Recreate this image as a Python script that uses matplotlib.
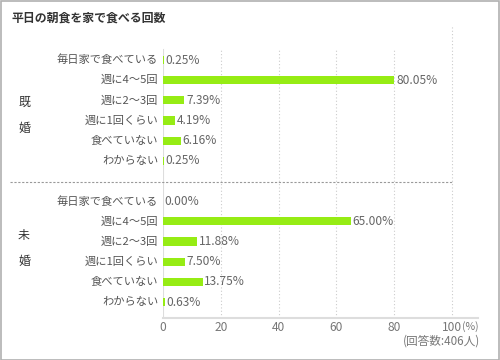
import matplotlib.pyplot as plt
from matplotlib.lines import Line2D

plt.rcParams['font.family'] = ['Noto Sans CJK JP', 'DejaVu Sans']

title = "平日の朝食を家で食べる回数"
categories = ["毎日家で食べている", "週に4～5回", "週に2～3回", "週に1回くらい", "食べていない", "わからない"]
groups = ["既\n\n婚", "未\n\n婚"]
married = [0.25, 80.05, 7.39, 4.19, 6.16, 0.25]
single = [0.00, 65.00, 11.88, 7.50, 13.75, 0.63]
xticks = [0, 20, 40, 60, 80, 100]
xticklabels = ["0", "20", "40", "60", "80", "100"]
unit = "(%)"
note = "(回答数:406人)"

green = "#96EC14"
W, H = 500, 360
fig = plt.figure(figsize=(5, 3.6), dpi=100)

# axes from x=163..478 px, y=25..318 px
px = 2.89  # pixels per percent
x0, x1 = 163, 478
y0, y1 = 25, 318
ax = fig.add_axes([x0 / W, 1 - y1 / H, (x1 - x0) / W, (y1 - y0) / H])
step = 20.17
ax.set_xlim(0, (x1 - x0) / px)
ax.set_ylim((y1 - 60) / step, (y0 - 60) / step)

rows1 = list(range(6))
rows2 = list(range(7, 13))
for rows, vals in [(rows1, married), (rows2, single)]:
    ax.barh(rows, vals, height=0.4, color=green, zorder=3)
    for r, v, c in zip(rows, vals, categories):
        ax.annotate(f"{v:.2f}%", (v, r), xytext=(1.2, 0), textcoords="offset points",
                    va="center", ha="left", fontsize=8.6, color="#666666")
        ax.annotate(c, (0, r), xytext=(-3.5, 0), textcoords="offset points",
                    va="center", ha="right", fontsize=8.1, color="#555555")

# grid lines
top_grid = (y1 - 50) / (y1 - y0)
for t in xticks[1:-1]:
    ax.axvline(t, ymin=0, ymax=top_grid, color="#cccccc", lw=0.8, ls=(0, (1, 2)), zorder=1)
ax.axvline(100, ymin=0, ymax=1, color="#cccccc", lw=0.8, ls=(0, (1, 2)), zorder=1)
ax.axvline(0, ymin=0, ymax=top_grid, color="#dddddd", lw=1.5, zorder=2)

for s in ["top", "right", "left"]:
    ax.spines[s].set_visible(False)
ax.spines["bottom"].set_color("#dddddd")
ax.spines["bottom"].set_linewidth(1.5)
ax.set_yticks([])
ax.set_xticks(xticks)
ax.set_xticklabels(xticklabels, fontsize=8.6, color="#777777")
ax.tick_params(axis="x", length=0, pad=2)
ax.annotate(unit, (100, 0), xycoords=("data", "axes fraction"), xytext=(7.5, -2),
            textcoords="offset points", ha="left", va="top", fontsize=7.6, color="#777777")
ax.patch.set_alpha(0)

# separator dashed line
fig.add_artist(Line2D([10 / W, 452 / W], [1 - 182 / H, 1 - 182 / H], color="#999999",
                      lw=0.8, ls=(0, (2, 1.5))))

fig.text(12 / W, 1 - 18 / H, title, fontsize=8.6, fontweight="bold", color="#333333", va="center")
fig.text(24 / W, 1 - 115 / H, groups[0], fontsize=8.6, color="#333333", va="center", ha="center",
         linespacing=1.0)
fig.text(24 / W, 1 - 248 / H, groups[1], fontsize=8.6, color="#333333", va="center", ha="center",
         linespacing=1.0)
fig.text(480 / W, 1 - 341 / H, note, fontsize=8.4, color="#777777", va="center", ha="right")

# border
fig.add_artist(plt.Rectangle((0.5 / W, 0.5 / H), (W - 1.5) / W, (H - 1.5) / H, fill=False,
                             edgecolor="#b0b0b0", lw=1.2, transform=fig.transFigure))

fig.savefig("out.png", dpi=100)
